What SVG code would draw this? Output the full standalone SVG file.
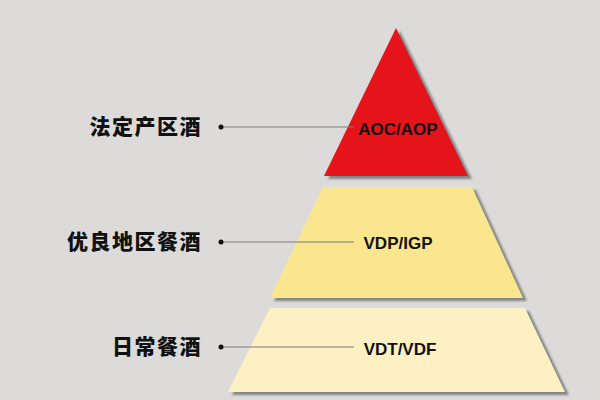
<svg xmlns="http://www.w3.org/2000/svg" width="600" height="400" viewBox="0 0 600 400">
<defs>
<style>
.cn{font-family:"Noto Sans CJK SC","Noto Sans",sans-serif;font-weight:900;font-size:21px;fill:#111;letter-spacing:1.5px;text-anchor:end}
.en{font-family:"Liberation Sans",Arial,sans-serif;font-weight:bold;font-size:17px;fill:#111;text-anchor:middle}
.shadow{fill:#858585}
.lead{stroke:#7a7a7a;stroke-width:1.2;fill:none}
.dot{fill:#111}
</style>
<filter id="blur" x="-10%" y="-10%" width="120%" height="120%"><feGaussianBlur stdDeviation="1.2"/></filter>
</defs>
<rect width="600" height="400" fill="#dcdbd9"/>
<g id="level-top">
<polygon class="shadow" filter="url(#blur)" points="400,31 472,179 328,179"/>
<polygon fill="#e5141b" points="396,28 468,176 324,176"/>
<text class="en" x="398" y="135" font-size="16">AOC/AOP</text>
</g>
<g id="level-middle">
<polygon class="shadow" filter="url(#blur)" points="327,190 476,190 527,301 274,301"/>
<polygon fill="#f9e68f" points="323,187 472,187 523,298 270,298"/>
<text class="en" x="398" y="249">VDP/IGP</text>
</g>
<g id="level-bottom">
<polygon class="shadow" filter="url(#blur)" points="274,311 529,311 569,395 232,395"/>
<polygon fill="#fdf0c3" points="270,308 525,308 565,392 228,392"/>
<text class="en" x="400" y="355">VDT/VDF</text>
</g>
<g id="label-aoc"><text class="cn" x="202" y="134">法定产区酒</text></g>
<g id="label-vdp"><text class="cn" x="202" y="249">优良地区餐酒</text></g>
<g id="label-vdt"><text class="cn" x="202" y="354">日常餐酒</text></g>
<g id="connectors">
<line class="lead" x1="221" y1="127" x2="354" y2="127"/>
<circle class="dot" cx="221" cy="127" r="2.5"/>
<line class="lead" x1="221" y1="242" x2="354" y2="242"/>
<circle class="dot" cx="221" cy="242" r="2.5"/>
<line class="lead" x1="221" y1="347" x2="354" y2="347"/>
<circle class="dot" cx="221" cy="347" r="2.5"/>
</g>
</svg>
